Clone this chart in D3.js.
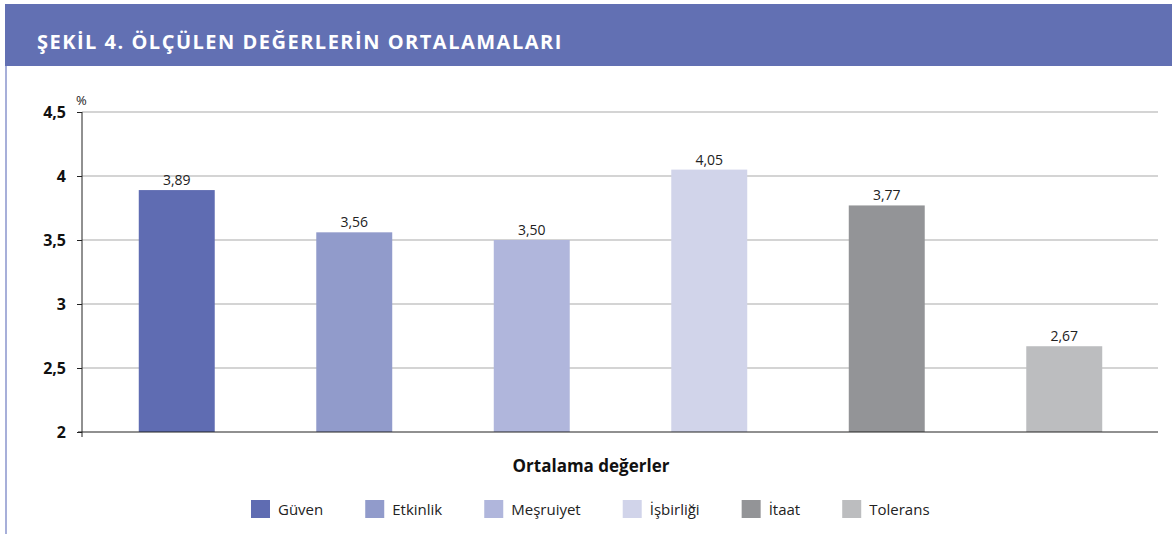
<!DOCTYPE html>
<html lang="tr">
<head>
<meta charset="UTF-8">
<title>Şekil 4</title>
<style>
    body { margin: 0; background: #fff; }
    svg { display: block; font-family: "Open Sans", "Noto Sans", sans-serif; }
</style>
</head>
<body>
<script src="https://d3js.org/d3.v7.min.js"></script>
<script>
    // chart data
    let categories = ['Güven', 'Etkinlik', 'Meşruiyet', 'İşbirliği', 'İtaat', 'Tolerans'];
    let values = [3.89, 3.56, 3.50, 4.05, 3.77, 2.67];
    let labels = ['3,89', '3,56', '3,50', '4,05', '3,77', '2,67'];
    let yTicks = [2, 2.5, 3, 3.5, 4, 4.5];
    let yTickLabels = ['2', '2,5', '3', '3,5', '4', '4,5'];
    let colors = ['#5f6cb2', '#919bcb', '#b0b6dc', '#d1d4ea', '#939497', '#bcbdbf'];

    let W = 1172, H = 534;
    let svg = d3.select('body').append('svg')
        .attr('width', W).attr('height', H);

    // header band + left frame line
    svg.append('rect').attr('x', 5).attr('y', 4).attr('width', W - 5).attr('height', 62)
        .attr('fill', '#6270b3');
    svg.append('line').attr('x1', 6).attr('x2', 6).attr('y1', 66).attr('y2', H)
        .attr('stroke', '#8a94cc').attr('stroke-width', 1.5);
    svg.append('text').attr('x', 37).attr('y', 49)
        .attr('fill', '#fff').attr('font-size', 20).attr('font-weight', 700)
        .attr('letter-spacing', 1.5)
        .text('ŞEKİL 4. ÖLÇÜLEN DEĞERLERİN ORTALAMALARI');

    let x = d3.scaleBand().domain(categories).range([88, 1153]).paddingInner(0.572).paddingOuter(0.286);
    let y = d3.scaleLinear().domain([2, 4.5]).range([432, 112]);

    // gridlines
    svg.append('g').selectAll('line').data(yTicks.slice(1)).join('line')
        .attr('x1', 82).attr('x2', 1158)
        .attr('y1', d => y(d)).attr('y2', d => y(d))
        .attr('stroke', '#a9a9a9').attr('stroke-width', 1);

    // y axis
    let yAxis = svg.append('g').attr('transform', 'translate(82,0)')
        .call(d3.axisLeft(y).tickValues(yTicks).tickSize(5).tickFormat((d, i) => yTickLabels[i]));
    yAxis.select('.domain').attr('stroke', '#222').attr('d', 'M0,' + y(4.5) + 'V' + (y(2) + 5));
    yAxis.selectAll('.tick line').attr('stroke', '#222');
    yAxis.selectAll('.tick text').attr('x', -16).attr('font-size', 16).attr('font-weight', 700)
        .attr('fill', '#111').attr('font-family', '"Open Sans", sans-serif');
    svg.append('text').attr('x', 76).attr('y', 105).attr('font-size', 13).attr('fill', '#222').text('%');

    // bars
    svg.append('g').selectAll('rect').data(values).join('rect')
        .attr('x', (d, i) => x(categories[i]))
        .attr('width', x.bandwidth())
        .attr('y', d => y(d))
        .attr('height', d => y(2) - y(d))
        .attr('fill', (d, i) => colors[i]);

    svg.append('g').selectAll('text').data(values).join('text')
        .attr('x', (d, i) => x(categories[i]) + x.bandwidth() / 2)
        .attr('y', d => y(d) - 5)
        .attr('text-anchor', 'middle').attr('font-size', 14).attr('fill', '#222')
        .text((d, i) => labels[i]);

    // x axis line
    svg.append('line').attr('x1', 78).attr('x2', 1158).attr('y1', y(2)).attr('y2', y(2))
        .attr('stroke', '#222').attr('stroke-width', 1.2);

    svg.append('text').attr('x', 591).attr('y', 472).attr('text-anchor', 'middle')
        .attr('font-size', 17).attr('font-weight', 700).attr('fill', '#111')
        .text('Ortalama değerler');

    // legend
    let legend = svg.append('g');
    let lx = 251;
    categories.forEach((c, i) => {
        legend.append('rect').attr('x', lx).attr('y', 500).attr('width', 19).attr('height', 18)
            .attr('fill', colors[i]);
        let t = legend.append('text').attr('x', lx + 27).attr('y', 515)
            .attr('font-size', 15).attr('fill', '#222').text(c);
        lx += 27 + t.node().getComputedTextLength() + 42;
    });
</script>
</body>
</html>
